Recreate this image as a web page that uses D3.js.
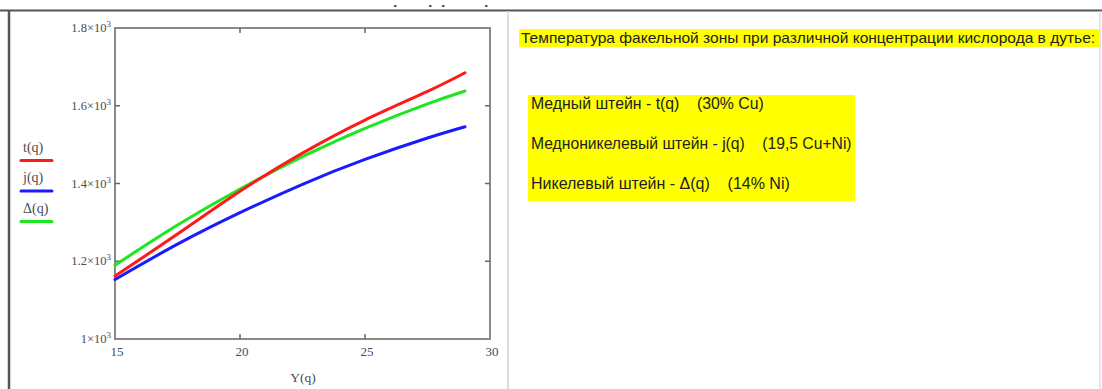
<!DOCTYPE html>
<html><head><meta charset="utf-8">
<script src="https://cdn.jsdelivr.net/npm/d3@7"></script>
<style>
html,body{margin:0;padding:0;background:#fff;}
svg{display:block;}
text{white-space:pre;}
</style></head>
<body>
<svg id="c" width="1102" height="389"></svg>
<script>
// ---- data ----
const qValues   = [15, 17.5, 20, 22.5, 25, 27.5, 29];
const tSeries   = [1162, 1270, 1380, 1478, 1563, 1637, 1685]; // Медный штейн
const jSeries   = [1153, 1244, 1325, 1398, 1462, 1517, 1546]; // Медноникелевый штейн
const dSeries   = [1190, 1293, 1386, 1469, 1542, 1605, 1638]; // Никелевый штейн
const xTicks    = [15, 20, 25, 30];
const yTicks    = [1000, 1200, 1400, 1600, 1800];
const yTickMant = ["1", "1.2", "1.4", "1.6", "1.8"];
const seriesNames = ["t(q)", "j(q)", "\u0394(q)"];
const xTitle    = "Y(q)";
const titleText = "Температура факельной зоны при различной концентрации кислорода в дутье:";
const infoLines = ["Медный штейн - t(q)    (30% Cu)",
                   "Медноникелевый штейн - j(q)    (19,5 Cu+Ni)",
                   "Никелевый штейн - \u0394(q)    (14% Ni)"];

const svg = d3.select("#c");
const colors = ["#ff1a1a", "#1a1aff", "#1ee61e"];

// ---- outer frame ----
svg.append("line").attr("x1",0).attr("x2",1102).attr("y1",10.5).attr("y2",10.5).attr("stroke","#555").attr("stroke-width",2);
svg.append("line").attr("x1",9).attr("x2",9).attr("y1",10).attr("y2",389).attr("stroke","#555").attr("stroke-width",2.5);
svg.append("line").attr("x1",508).attr("x2",508).attr("y1",11).attr("y2",389).attr("stroke","#ddd").attr("stroke-width",2);
svg.append("line").attr("x1",1100).attr("x2",1100).attr("y1",11).attr("y2",389).attr("stroke","#ddd").attr("stroke-width",1.5);
[395,430,443,486].forEach(x=>svg.append("rect").attr("x",x-1).attr("y",5).attr("width",2.5).attr("height",2).attr("fill","#555"));

// ---- plot ----
const L=115, R=490, T=28, B=339;
const x = d3.scaleLinear().domain([15,30]).range([L,R]);
const y = d3.scaleLinear().domain([1000,1800]).range([B,T]);
const g = svg.append("g");
g.append("rect").attr("x",L).attr("y",T).attr("width",R-L).attr("height",B-T)
  .attr("fill","none").attr("stroke","#8a8a8a").attr("stroke-width",2);

const tickLen = 5;
const inner = xTicks.slice(1,-1), innerY = yTicks.slice(1,-1);
inner.forEach(v=>{
  g.append("line").attr("x1",x(v)).attr("x2",x(v)).attr("y1",B).attr("y2",B-tickLen).attr("stroke","#666").attr("stroke-width",1.5);
  g.append("line").attr("x1",x(v)).attr("x2",x(v)).attr("y1",T).attr("y2",T+tickLen).attr("stroke","#666").attr("stroke-width",1.5);
});
innerY.forEach(v=>{
  g.append("line").attr("x1",L).attr("x2",L+tickLen).attr("y1",y(v)).attr("y2",y(v)).attr("stroke","#666").attr("stroke-width",1.5);
  g.append("line").attr("x1",R).attr("x2",R-tickLen).attr("y1",y(v)).attr("y2",y(v)).attr("stroke","#666").attr("stroke-width",1.5);
});

const serif = "'Liberation Serif','Times New Roman',serif";
const labCol = "#4a4a5a";
yTicks.forEach((v,i)=>{
  const t = g.append("text").attr("x",L-4).attr("y",y(v)+4).attr("text-anchor","end")
    .attr("font-family",serif).attr("font-size",12.5).attr("fill",labCol);
  t.append("tspan").text(yTickMant[i]+"\u00d710");
  t.append("tspan").attr("dy",-5).attr("font-size",9).text("3");
});
xTicks.forEach(v=>{
  g.append("text").attr("x",x(v)+2).attr("y",B+17).attr("text-anchor","middle")
   .attr("font-family",serif).attr("font-size",13).attr("fill",labCol).text(v);
});
g.append("text").attr("x",303).attr("y",382).attr("text-anchor","middle")
 .attr("font-family",serif).attr("font-size",13.5).attr("fill",labCol).text(xTitle);

// curves
const series = [tSeries, jSeries, dSeries];
const line = d3.line().x((d,i)=>x(qValues[i])).y(d=>y(d)).curve(d3.curveNatural);
[1,2,0].forEach(k=>{
  g.append("path").datum(series[k]).attr("d",line).attr("fill","none")
   .attr("stroke",colors[k]).attr("stroke-width",3).attr("stroke-linecap","round");
});

// legend (left)
const legY = [147, 177, 208];
const lineY = [160.5, 191, 221.5];
seriesNames.forEach((n,i)=>{
  svg.append("text").attr("x",23).attr("y",legY[i]+5).attr("font-family",serif).attr("font-size",14)
    .attr("fill",labCol).text(n);
  svg.append("line").attr("x1",21).attr("x2",52).attr("y1",lineY[i]).attr("y2",lineY[i])
    .attr("stroke",colors[i]).attr("stroke-width",3).attr("stroke-linecap","round");
});

// ---- right panel ----
const sans = "'Liberation Sans',Arial,sans-serif";
function fitText(sel, target){
  const w = sel.node().getComputedTextLength();
  const fs = +sel.attr("font-size");
  sel.attr("font-size", fs*target/w);
}
svg.append("rect").attr("x",519).attr("y",29).attr("width",580).attr("height",18).attr("fill","#ffff00");
const tt = svg.append("text").attr("x",521).attr("y",43).attr("font-family",sans).attr("font-size",12)
  .attr("fill","#222").text(titleText);
fitText(tt, 575);

svg.append("rect").attr("x",528).attr("y",95).attr("width",327).attr("height",106).attr("fill","#ffff00");
const infoY = [109, 149, 189];
const infoW = [233, 321, 259];
infoLines.forEach((s,i)=>{
  const t = svg.append("text").attr("x",531).attr("y",infoY[i]).attr("font-family",sans).attr("font-size",12)
    .attr("fill","#222").text(s);
  fitText(t, infoW[i]);
});
</script>
</body></html>
